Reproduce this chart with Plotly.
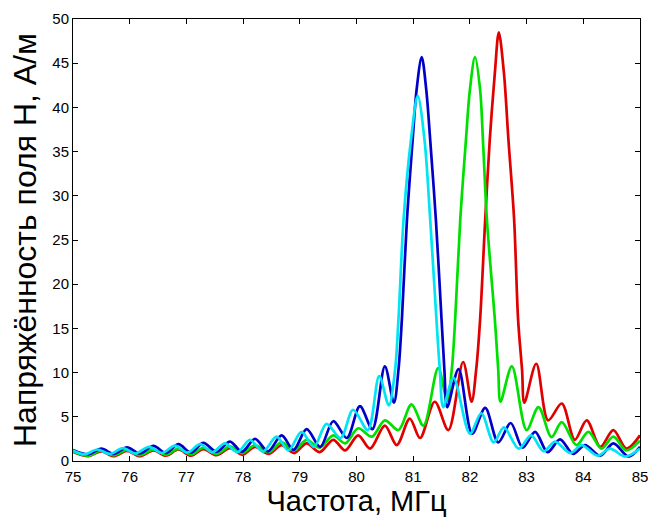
import plotly.graph_objects as go

red_x = [75.0, 75.27, 75.5, 75.72, 75.95, 76.18, 76.42, 76.64, 76.86, 77.08, 77.3, 77.53, 77.77, 77.99,
         78.21, 78.45, 78.68, 78.9, 79.12, 79.35, 79.59, 79.8, 80.03, 80.24, 80.5, 80.71, 80.94, 81.12,
         81.38, 81.62, 81.88, 82.03, 82.11, 82.18, 82.27, 82.35, 82.44, 82.51, 82.60, 82.68, 82.78,
         82.85, 82.92, 82.96, 83.17, 83.38, 83.62, 83.85, 84.06, 84.3, 84.53, 84.76, 85.0]
red_y = [1.05, 0.55, 1.1, 0.55, 1.15, 0.55, 1.2, 0.6, 1.3, 0.6, 1.35, 0.65, 1.45, 0.7,
         1.6, 0.8, 1.8, 0.9, 2.0, 1.0, 2.4, 1.2, 2.9, 1.4, 4.0, 1.8, 4.8, 2.6,
         6.7, 3.5, 11.2, 6.7, 10.3, 16, 27.3, 36.3, 43.9, 48.5, 43.9, 36.3, 27.3,
         16, 10.3, 6.6, 11.0, 4.6, 6.5, 2.4, 4.6, 1.6, 3.5, 1.4, 2.9]

green_x = [75.0, 75.27, 75.5, 75.72, 75.95, 76.18, 76.42, 76.64, 76.86, 77.08, 77.3, 77.53, 77.77, 77.99,
           78.21, 78.45, 78.68, 78.9, 79.12, 79.35, 79.59, 79.8, 80.03, 80.27, 80.5, 80.74, 80.97, 81.18,
           81.44, 81.6, 81.68, 81.74, 81.83, 81.93, 82.0, 82.09, 82.18, 82.23, 82.30, 82.44, 82.5, 82.54,
           82.74, 83.0, 83.21, 83.44, 83.62, 83.88, 84.09, 84.32, 84.53, 84.76, 85.0]
green_y = [1.1, 0.6, 1.2, 0.65, 1.25, 0.65, 1.3, 0.7, 1.4, 0.75, 1.5, 0.8, 1.65, 0.9,
           1.8, 1.0, 2.1, 1.2, 2.4, 1.5, 2.9, 2.0, 3.7, 2.75, 4.6, 3.5, 6.4, 4.0,
           10.5, 6.8, 10.3, 16, 27.3, 36.3, 42, 45.7, 42, 36.3, 27.3, 16, 10.3, 6.7,
           10.7, 3.5, 6.1, 2.7, 4.4, 1.8, 3.3, 1.4, 2.75, 1.2, 2.3]

blue_x = [75.0, 75.27, 75.5, 75.72, 75.95, 76.18, 76.42, 76.64, 76.86, 77.08, 77.3, 77.53, 77.77, 77.98,
          78.21, 78.44, 78.68, 78.89, 79.12, 79.36, 79.59, 79.83, 80.06, 80.28, 80.5, 80.66, 80.74, 80.8,
          80.89, 80.99, 81.06, 81.15, 81.23, 81.30, 81.40, 81.5, 81.55, 81.6, 81.8, 82.04, 82.27, 82.5,
          82.72, 82.93, 83.15, 83.37, 83.59, 83.82, 84.03, 84.3, 84.53, 84.8, 85.0]
blue_y = [1.25, 0.75, 1.4, 0.8, 1.55, 0.85, 1.7, 0.9, 1.9, 0.95, 2.05, 1.05, 2.2, 1.05,
          2.5, 1.1, 2.9, 1.25, 3.6, 1.6, 4.5, 2.6, 6.2, 3.6, 10.7, 6.6, 10.3, 16,
          27.3, 36.3, 42, 45.7, 42, 36.3, 27.3, 16, 10.3, 6.1, 10.4, 3.1, 6.0, 2.1,
          4.3, 1.5, 3.3, 1.0, 2.45, 0.8, 1.8, 0.6, 2.0, 0.5, 1.6]

cyan_x = [75.0, 75.2, 75.43, 75.65, 75.88, 76.1, 76.34, 76.57, 76.8, 77.02, 77.24, 77.46, 77.68, 77.9,
          78.12, 78.35, 78.59, 78.8, 79.03, 79.25, 79.47, 79.72, 79.94, 80.2, 80.4, 80.57, 80.68, 80.74,
          80.83, 80.96, 81.08, 81.2, 81.3, 81.41, 81.47, 81.53, 81.71, 82.0, 82.2, 82.42, 82.6, 82.86,
          83.08, 83.3, 83.5, 83.77, 83.97, 84.25, 84.47, 84.74, 85.0]
cyan_y = [1.2, 0.75, 1.3, 0.8, 1.45, 0.85, 1.6, 0.9, 1.75, 0.95, 1.9, 1.0, 2.0, 1.0,
          2.4, 1.05, 2.75, 1.2, 3.3, 1.6, 4.2, 2.6, 5.8, 3.5, 9.6, 6.3, 10.3, 16,
          27.3, 36.3, 41.3, 36.3, 27.3, 16, 10.3, 6.1, 9.4, 3.1, 5.4, 2.1, 3.8, 1.4,
          2.9, 1.1, 2.2, 0.9, 1.8, 0.6, 1.4, 0.5, 1.4]

x_ticks = [75, 76, 77, 78, 79, 80, 81, 82, 83, 84, 85]
y_ticks = [0, 5, 10, 15, 20, 25, 30, 35, 40, 45, 50]

series = [
    (red_x, red_y, "#e00000"),
    (green_x, green_y, "#00e000"),
    (blue_x, blue_y, "#0000c8"),
    (cyan_x, cyan_y, "#00e4f4"),
]

fig = go.Figure()
for xs, ys, col in series:
    fig.add_trace(go.Scatter(x=xs, y=ys, mode="lines",
                             line=dict(color=col, width=2.7, shape="spline", smoothing=0.9),
                             showlegend=False, hoverinfo="skip"))

axis_common = dict(showgrid=False, zeroline=False, showline=True, linecolor="black", linewidth=1,
                   mirror="allticks", ticks="inside", ticklen=5, tickcolor="black",
                   ticklabeloverflow="allow", automargin=False,
                   tickfont=dict(family="Liberation Sans, Arial", size=15, color="black"))

fig.update_xaxes(range=[75, 85], tickvals=x_ticks, ticktext=[str(v) for v in x_ticks],
                 ticklabelstandoff=2,
                 title=dict(text="Частота, МГц", font=dict(family="Liberation Sans, Arial", size=29, color="black"),
                            standoff=10),
                 **axis_common)
fig.update_yaxes(range=[0, 50], tickvals=y_ticks, ticktext=[str(v) for v in y_ticks],
                 title=dict(text="Напряжённость поля Н, А/м",
                            font=dict(family="Liberation Sans, Arial", size=32, color="black"), standoff=6),
                 **axis_common)

fig.update_layout(width=648, height=517, margin=dict(l=73, r=8, t=19, b=56),
                  paper_bgcolor="white", plot_bgcolor="white")

fig.write_html("out.html")
